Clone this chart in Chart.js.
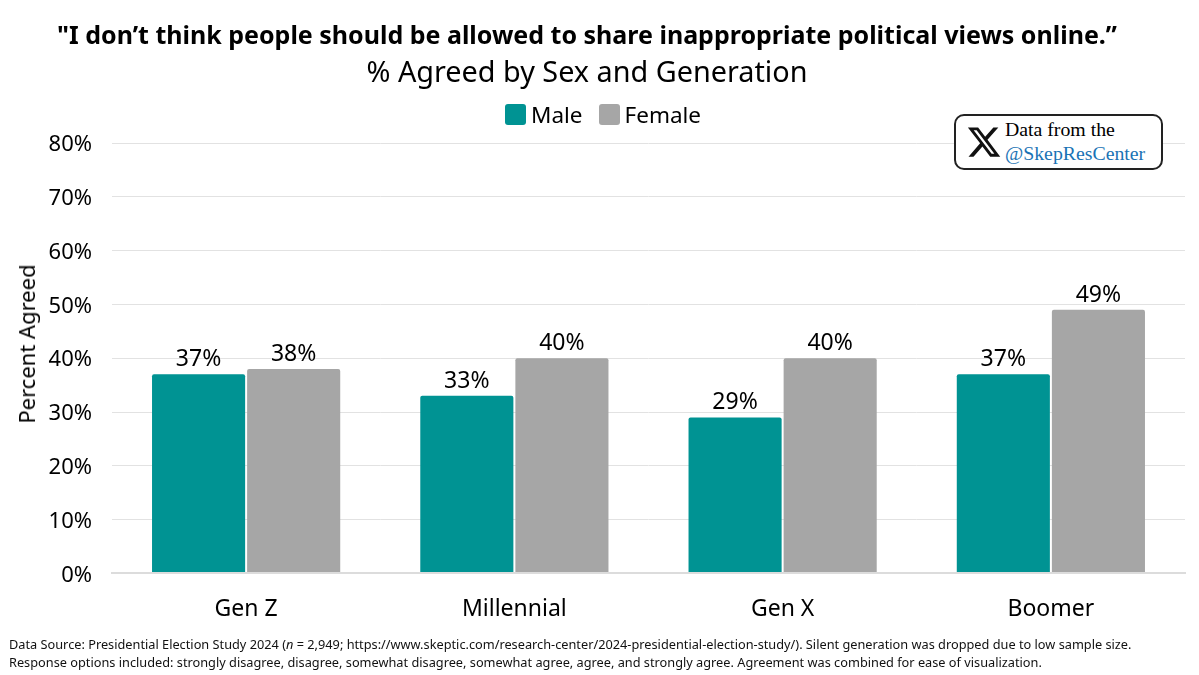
<!DOCTYPE html>
<html>
<head>
<meta charset="utf-8">
<script src="https://cdn.jsdelivr.net/npm/chart.js@4"></script>
<style>
    body { margin: 0; background: #fff; width: 1199px; height: 675px; overflow: hidden; position: relative; font-family: "Noto Sans", sans-serif; color: #000; }
    canvas { position: absolute; left: 0; top: 0; }
    .head { position: absolute; left: 0; width: 1174px; text-align: center; white-space: nowrap; }
    #title { top: 15px; font-size: 25px; font-weight: 700; line-height: 38px; }
    #subtitle { top: 52px; font-size: 28.8px; line-height: 38px; }
    #legend { position: absolute; left: 505px; top: 98px; height: 32px; display: flex; align-items: center; font-size: 22.5px; white-space: nowrap; }
    #legend i { display: block; width: 21px; height: 21px; border-radius: 3px; margin-right: 5px; }
    #legend span { margin-right: 16px; }
    #yCaption { position: absolute; left: 26px; top: 344px; font-size: 22px; line-height: 30px; white-space: nowrap; transform: translate(-50%, -50%) rotate(-90deg); }
    #notes { position: absolute; left: 9px; top: 636px; font-size: 12.75px; line-height: 17.5px; white-space: nowrap; color: #111; }
    #badge { position: absolute; left: 954px; top: 114px; width: 205px; height: 52px; border: 2px solid #222; border-radius: 10px; background: #fff; font-family: "Liberation Serif", serif; font-size: 19.8px; line-height: 23.5px; }
    #badge svg { position: absolute; left: 10px; top: 8px; width: 36px; height: 36px; }
    #badge div { position: absolute; left: 49px; top: 2px; white-space: nowrap; }
    #badge span { color: #1a73b5; }
</style>
</head>
<body>
<canvas id="chart" width="1199" height="675"></canvas>
<div class="head" id="title">"I don’t think people should be allowed to share inappropriate political views online.”</div>
<div class="head" id="subtitle">% Agreed by Sex and Generation</div>
<div id="legend"></div>
<div id="yCaption">Percent Agreed</div>
<div id="badge">
    <svg viewBox="0 0 24 24"><path fill="#111" d="M18.244 2.25h3.308l-7.227 8.26 8.502 11.24H16.17l-5.214-6.817L4.99 21.75H1.68l7.73-8.835L1.254 2.25H8.08l4.713 6.231zm-1.161 17.52h1.833L7.084 4.126H5.117z"/></svg>
    <div>Data from the<br><span>@SkepResCenter</span></div>
</div>
<div id="notes">
    Data Source: Presidential Election Study 2024 (<i>n</i> = 2,949; https://www.skeptic.com/research-center/2024-presidential-election-study/). Silent generation was dropped due to low sample size.<br>
    Response options included: strongly disagree, disagree, somewhat disagree, somewhat agree, agree, and strongly agree. Agreement was combined for ease of visualization.
</div>
<script>
const generations = ["Gen Z", "Millennial", "Gen X", "Boomer"];
const maleValues = [37, 33, 29, 37];
const femaleValues = [38, 40, 40, 49];
const percentTicks = [0, 10, 20, 30, 40, 50, 60, 70, 80];

const TEAL = "#009393";
const GREY = "#a6a6a6";
const FONT = '"Noto Sans", sans-serif';

// Writes the percentage above each bar
const barLabels = {
    id: "barLabels",
    afterDatasetsDraw(chart) {
        const ctx = chart.ctx;
        ctx.save();
        ctx.font = "23px " + FONT;
        ctx.fillStyle = "#000";
        ctx.textAlign = "center";
        ctx.textBaseline = "bottom";
        chart.data.datasets.forEach(function(dataset, i) {
            chart.getDatasetMeta(i).data.forEach(function(bar, j) {
                ctx.fillText(dataset.data[j] + "%", bar.x, bar.y - 3);
            });
        });
        ctx.restore();
    }
};

const chart = new Chart(document.getElementById("chart").getContext("2d"), {
    type: "bar",
    data: {
        labels: generations,
        datasets: [
            { label: "Male", data: maleValues, backgroundColor: TEAL, borderRadius: 2 },
            { label: "Female", data: femaleValues, backgroundColor: GREY, borderRadius: 2 }
        ]
    },
    options: {
        responsive: false,
        animation: false,
        layout: { padding: { top: 143, right: 14, bottom: 38, left: 15 } },
        datasets: { bar: { categoryPercentage: 0.709, barPercentage: 0.979 } },
        plugins: {
            legend: { display: false },
            tooltip: { enabled: false }
        },
        scales: {
            x: {
                grid: { display: false },
                border: { color: "#dcdcdc", width: 2, z: 2 },
                ticks: { font: { family: FONT, size: 23 }, color: "#000", padding: 14 }
            },
            y: {
                min: 0,
                max: 80,
                afterBuildTicks(axis) {
                    axis.ticks = percentTicks.map(function(v) { return { value: v }; });
                },
                afterFit(axis) {
                    axis.width = 97;
                },
                grid: { color: "#e2e2e2", drawTicks: false },
                border: { display: false },
                ticks: {
                    font: { family: FONT, size: 22 },
                    color: "#000",
                    padding: 20,
                    labelOffset: 2,
                    callback: function(value) { return value + "%"; }
                }
            }
        }
    },
    plugins: [barLabels]
});

// Legend row with square swatches close to their labels
const legendBox = document.getElementById("legend");
chart.data.datasets.forEach(function(dataset) {
    const swatch = document.createElement("i");
    swatch.style.background = dataset.backgroundColor;
    const name = document.createElement("span");
    name.textContent = dataset.label;
    legendBox.appendChild(swatch);
    legendBox.appendChild(name);
});
</script>
</body>
</html>
